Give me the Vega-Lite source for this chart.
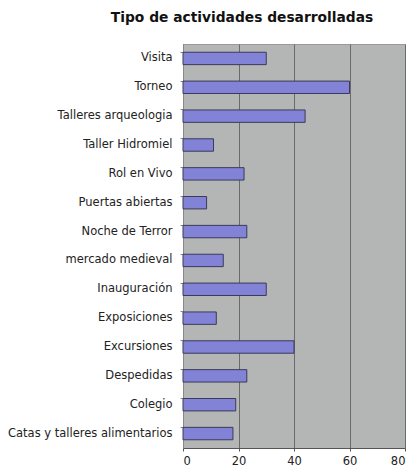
{
  "$schema": "https://vega.github.io/schema/vega-lite/v6.json",
  "width": 222,
  "height": 404,
  "autosize": {"type": "none"},
  "padding": {"left": 183, "top": 44, "right": 9, "bottom": 25},
  "background": "white",
  "title": {
    "text": "Tipo de actividades desarrolladas",
    "font": "DejaVu Sans",
    "fontSize": 13.8,
    "fontWeight": "bold",
    "color": "#111111",
    "anchor": "middle",
    "frame": "group",
    "dx": -52,
    "offset": 19
  },
  "data": {
    "values": [
      {"actividad": "Visita", "valor": 30},
      {"actividad": "Torneo", "valor": 60},
      {"actividad": "Talleres arqueologia", "valor": 44},
      {"actividad": "Taller Hidromiel", "valor": 11},
      {"actividad": "Rol en Vivo", "valor": 22},
      {"actividad": "Puertas abiertas", "valor": 8.5},
      {"actividad": "Noche de Terror", "valor": 23},
      {"actividad": "mercado medieval", "valor": 14.5},
      {"actividad": "Inauguración", "valor": 30},
      {"actividad": "Exposiciones", "valor": 12},
      {"actividad": "Excursiones", "valor": 40},
      {"actividad": "Despedidas", "valor": 23},
      {"actividad": "Colegio", "valor": 19},
      {"actividad": "Catas y talleres alimentarios", "valor": 18}
    ]
  },
  "mark": {"type": "bar", "fill": "#8282d6", "stroke": "#3a3a5a", "strokeWidth": 1},
  "encoding": {
    "y": {
      "field": "actividad",
      "type": "nominal",
      "sort": null,
      "title": null,
      "scale": {"paddingInner": 0.57, "paddingOuter": 0.285},
      "axis": {
        "labelFont": "DejaVu Sans",
        "labelFontSize": 11.5,
        "labelColor": "#222222",
        "tickSize": 3,
        "tickColor": "#888888",
        "bandPosition": 0,
        "labelPadding": 8,
        "labelLimit": 200,
        "domain": true,
        "domainColor": "#888888",
        "grid": false
      }
    },
    "x": {
      "field": "valor",
      "type": "quantitative",
      "title": null,
      "scale": {"domain": [0, 80], "nice": false},
      "axis": {
        "values": [0, 20, 40, 60, 80],
        "labelFont": "DejaVu Sans",
        "labelFontSize": 11.5,
        "labelColor": "#222222",
        "tickSize": 3,
        "tickColor": "#555555",
        "labelPadding": 4,
        "domainColor": "#555555",
        "grid": true,
        "gridColor": "#6a6a6a",
        "gridWidth": 1,
        "gridOpacity": 1
      }
    }
  },
  "config": {
    "view": {"fill": "#b4b6b6", "stroke": "#9a9a9a"}
  }
}
